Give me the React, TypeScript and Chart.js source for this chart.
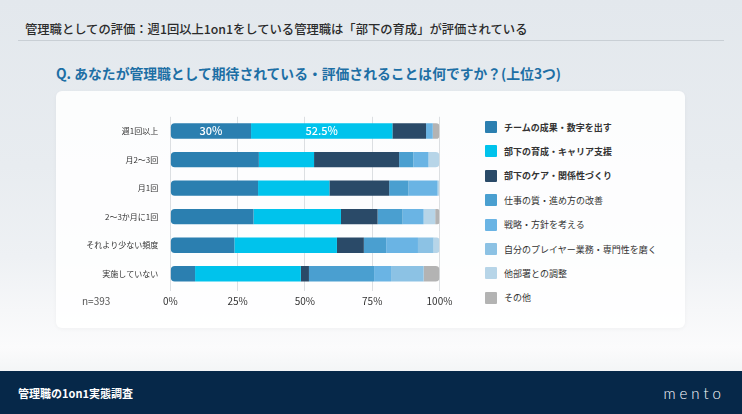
import { useEffect, useRef } from 'react';
import { Chart, registerables, type ChartConfiguration } from 'chart.js';

Chart.register(...registerables);

const categories = ['週1回以上', '月2〜3回', '月1回', '2〜3か月に1回', 'それより少ない頻度', '実施していない'];

const seriesNames = [
    'チームの成果・数字を出す',
    '部下の育成・キャリア支援',
    '部下のケア・関係性づくり',
    '仕事の質・進め方の改善',
    '戦略・方針を考える',
    '自分のプレイヤー業務・専門性を磨く',
    '他部署との調整',
    'その他',
];

const teamResults = [30, 32.9, 32.6, 30.9, 23.8, 9.2];
const development = [52.5, 20.5, 26.5, 32.5, 38.1, 39.3];
const care = [12.5, 31.6, 22.2, 13.6, 10.0, 3.0];
const workQuality = [0, 5.3, 7.2, 9.3, 8.3, 24.2];
const strategy = [2.5, 5.6, 10.8, 7.8, 11.8, 6.3];
const player = [0, 0, 0, 0, 5.8, 12.1];
const coordination = [0, 4.1, 0.7, 4.3, 2.2, 0];
const other = [2.5, 0, 0, 1.6, 0, 5.9];

const xTicks = [0, 25, 50, 75, 100];

const colors = ['#2b7fb0', '#00c3ec', '#2a4a68', '#4a9fd0', '#6ab4e4', '#8cc2e4', '#b7d5e8', '#b3b3b3'];

const allSeries = [teamResults, development, care, workQuality, strategy, player, coordination, other];

const FONT = "'Noto Sans CJK JP', 'Noto Sans', sans-serif";

// first / last non-zero segment of each row gets the rounded ends
function cornerRadius(ctx: any) {
    const row = ctx.dataIndex;
    const ds = ctx.datasetIndex;
    const nonZero = allSeries.map((s, i) => (s[row] > 0 ? i : -1)).filter((i) => i >= 0);
    const first = nonZero[0] === ds;
    const last = nonZero[nonZero.length - 1] === ds;
    const r = 4;
    return {
        topLeft: first ? r : 0,
        bottomLeft: first ? r : 0,
        topRight: last ? r : 0,
        bottomRight: last ? r : 0,
    };
}

const valueLabels = {
    id: 'valueLabels',
    afterDatasetsDraw(chart: any) {
        const { ctx } = chart;
        ctx.save();
        ctx.font = `500 11px ${FONT}`;
        ctx.fillStyle = '#ffffff';
        ctx.textAlign = 'center';
        ctx.textBaseline = 'middle';
        [0, 1].forEach((ds) => {
            const bar = chart.getDatasetMeta(ds).data[0];
            const { x, y, base } = bar.getProps(['x', 'y', 'base'], true);
            ctx.fillText(`${allSeries[ds][0]}%`, (x + base) / 2, y);
        });
        ctx.restore();
    },
};

function StackedBars() {
    const chartRef = useRef<HTMLCanvasElement>(null);

    useEffect(() => {
        if (!chartRef.current) return;
        const config = {
            type: 'bar',
            data: {
                labels: categories,
                datasets: allSeries.map((data, i) => ({
                    label: seriesNames[i],
                    data: data,
                    backgroundColor: colors[i],
                    borderWidth: 0,
                    borderSkipped: false,
                    borderRadius: cornerRadius,
                    barPercentage: 0.54,
                    categoryPercentage: 1,
                })),
            },
            options: {
                indexAxis: 'y',
                animation: false,
                responsive: false,
                maintainAspectRatio: false,
                layout: { padding: { top: 14, right: 20.5, left: 0, bottom: 0 } },
                plugins: {
                    legend: { display: false },
                    tooltip: { enabled: false },
                },
                scales: {
                    x: {
                        stacked: true,
                        min: 0,
                        max: 100,
                        afterBuildTicks: (s: any) => {
                            s.ticks = xTicks.map((v) => ({ value: v }));
                        },
                        afterFit: (s: any) => {
                            s.height = 27;
                        },
                        grid: { color: '#dcdfe2', tickLength: 3 },
                        border: { display: false },
                        ticks: {
                            padding: 4,
                            color: '#333333',
                            font: { size: 10, family: FONT },
                            callback: (v: any) => `${v}%`,
                        },
                    },
                    y: {
                        stacked: true,
                        afterFit: (s: any) => {
                            s.width = 110.3;
                        },
                        grid: { display: false, drawTicks: false },
                        border: { display: false },
                        ticks: {
                            padding: 12,
                            color: '#333333',
                            font: { size: 8, family: FONT },
                        },
                    },
                },
            },
            plugins: [valueLabels],
        };
        const chart = new Chart(chartRef.current, config as unknown as ChartConfiguration);
        return () => {
            chart.destroy();
        };
    }, []);

    return (
        <canvas
            ref={chartRef}
            width={400}
            height={215}
            style={{ position: 'absolute', left: 60, top: 100, width: 400, height: 215 }}
        ></canvas>
    );
}

export default function App() {
    return (
        <div
            style={{
                position: 'fixed',
                left: 0,
                top: 0,
                width: 742,
                height: 414,
                overflow: 'hidden',
                fontFamily: FONT,
                background:
                    'linear-gradient(180deg, #e3e8ed 0%, #e8ecf0 40%, #eef1f4 62%, #f6f7f9 75%, #fbfbfc 84%, #f3f5f6 90%)',
            }}
        >
            <div
                style={{
                    position: 'absolute',
                    left: 25,
                    top: 20,
                    fontSize: 12.3,
                    lineHeight: '18px',
                    fontWeight: 500,
                    color: '#2b2b2b',
                    whiteSpace: 'nowrap',
                }}
            >
                管理職としての評価：週1回以上1on1をしている管理職は「部下の育成」が評価されている
            </div>
            <div style={{ position: 'absolute', left: 18, top: 40, width: 706, height: 1, background: '#c9cfd5' }}></div>
            <div
                style={{
                    position: 'absolute',
                    left: 56,
                    top: 63,
                    fontSize: 13.8,
                    lineHeight: '20px',
                    fontWeight: 700,
                    color: '#1d6fa5',
                    whiteSpace: 'nowrap',
                }}
            >
                Q. あなたが管理職として期待されている・評価されることは何ですか？(上位3つ)
            </div>
            <div
                style={{
                    position: 'absolute',
                    left: 56,
                    top: 91,
                    width: 629,
                    height: 237,
                    borderRadius: 6,
                    background: 'rgba(255,255,255,0.88)',
                    boxShadow: '0 1px 4px rgba(0,0,0,0.04)',
                }}
            ></div>
            <StackedBars />
            <div style={{ position: 'absolute', left: 82, top: 294, fontSize: 10, lineHeight: '14px', color: '#555' }}>
                n=393
            </div>
            {seriesNames.map((name, i) => (
                <div
                    key={name}
                    style={{ position: 'absolute', left: 485, top: 121 + i * 24.4, height: 12, display: 'flex', alignItems: 'center' }}
                >
                    <div style={{ width: 12, height: 12, borderRadius: 1, background: colors[i] }}></div>
                    <div
                        style={{
                            marginLeft: 7,
                            fontSize: 9,
                            fontWeight: i < 3 ? 700 : 400,
                            color: '#333',
                            whiteSpace: 'nowrap',
                        }}
                    >
                        {name}
                    </div>
                </div>
            ))}
            <div style={{ position: 'absolute', left: 0, top: 371, width: 742, height: 43, background: '#062849' }}>
                <div
                    style={{
                        position: 'absolute',
                        left: 18,
                        top: 14,
                        fontSize: 11,
                        lineHeight: '16px',
                        fontWeight: 700,
                        color: '#ffffff',
                    }}
                >
                    管理職の1on1実態調査
                </div>
                <div
                    style={{
                        position: 'absolute',
                        right: 17,
                        top: 12,
                        fontSize: 15,
                        lineHeight: '20px',
                        letterSpacing: 4,
                        fontFamily: "'Lato', sans-serif",
                        fontWeight: 300,
                        color: '#ffffff',
                    }}
                >
                    mento
                </div>
            </div>
        </div>
    );
}
